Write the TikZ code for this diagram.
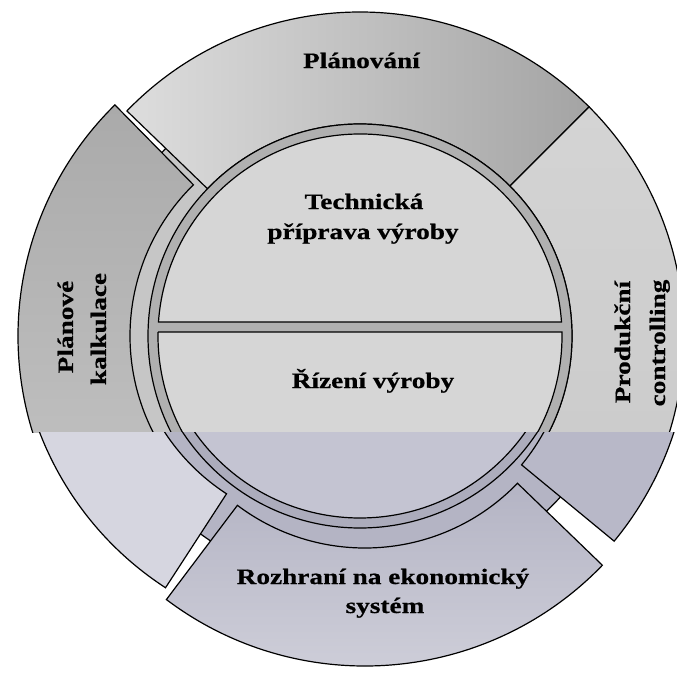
\documentclass[tikz,border=0pt]{standalone}
\usepackage{fontspec}
\setmainfont{Liberation Serif}[FakeStretch=1.24, BoldFeatures={FakeBold=0.6}]

% grey tones of the upper half
\definecolor{bgU}{HTML}{C6C6C6}
\definecolor{planA}{HTML}{DDDDDD}
\definecolor{planB}{HTML}{D2D2D2}
\definecolor{planC}{HTML}{A4A4A4}
\definecolor{kalkA}{HTML}{AAAAAA}
\definecolor{kalkB}{HTML}{C8C8C8}
\definecolor{prodA}{HTML}{D4D4D4}
\definecolor{prodB}{HTML}{C9C9C9}
\definecolor{bandU}{HTML}{B0B0B0}
\definecolor{halfU}{HTML}{D6D6D6}
% bluish tones of the lower half
\definecolor{bgL}{HTML}{B4B4C4}
\definecolor{kalkL}{HTML}{D6D6E0}
\definecolor{rozA}{HTML}{B4B4C4}
\definecolor{rozB}{HTML}{D2D2DC}
\definecolor{prodL}{HTML}{B8B8C8}
\definecolor{bandL}{HTML}{ACACBC}
\definecolor{halfL}{HTML}{C4C4D2}

% annular sector: centre offset (#1,#2), angles #3..#4, outer radius #5, style #6
\newcommand\ringseg[6]{%
  \path[#6] ([shift={(#1,#2)}]#3:212) arc[start angle=#3, end angle=#4, radius=212]
    -- ([shift={(#1,#2)}]#4:#5) arc[start angle=#4, end angle=#3, radius=#5] -- cycle;}

% the whole wheel: backing disc, four outer segments, split inner circle
\newcommand\drawwheel{%
  \path[bgdisk] (0,0) circle[radius=270];
  \ringseg{0}{0}{45}{136}{324}{plan}
  \ringseg{-18}{0}{134.5}{237}{324}{kalk}
  \ringseg{5}{-20}{233}{316}{330}{roz}
  \ringseg{\prodx}{\prody}{\proda}{45}{\prodr}{prod}
  \path[band] (0,0) circle[radius=212];
  \path[half] (-201.5,14) -- (201.5,14)
    arc[start angle=3.97, end angle=176.03, radius=202] -- cycle;
  \path[half] (-201.96,4) -- (201.96,4)
    arc[start angle=1.135, end angle=-181.135, radius=202] -- cycle;
}

\begin{document}
\begin{tikzpicture}[x=1pt,y=1pt,
  outline/.style={draw=black, line width=1.2pt},
  lbl/.style={font=\fontsize{22}{30}\selectfont\bfseries, inner sep=0pt, anchor=base},
]
\clip (-360,-337) rectangle (317,336);
\fill[white] (-360,-337) rectangle (317,336);

% upper half in grey
\begin{scope}[
  bgdisk/.style={outline, fill=bgU},
  plan/.style={outline, left color=planA, middle color=planB, right color=planC},
  kalk/.style={outline, top color=kalkA, bottom color=kalkB},
  roz/.style={outline, fill=rozA},
  prod/.style={outline, top color=prodA, bottom color=prodB},
  band/.style={outline, fill=bandU},
  half/.style={outline, fill=halfU}]
  \clip (-360,-96) rectangle (317,336);
  \def\prodx{0}\def\prody{0}\def\proda{-42}\def\prodr{324}
  \drawwheel
\end{scope}

% lower half in bluish grey, set slightly higher
\begin{scope}[
  bgdisk/.style={outline, fill=bgL},
  plan/.style={outline, fill=halfL},
  kalk/.style={outline, fill=kalkL},
  roz/.style={outline, top color=rozA, bottom color=rozB},
  prod/.style={outline, fill=prodL},
  band/.style={outline, fill=bandL},
  half/.style={outline, fill=halfL}]
  \clip (-360,-337) rectangle (317,-96);
  \def\prodx{-2}\def\prody{-14}\def\proda{-39.5}\def\prodr{332}
  \begin{scope}[yshift=20pt]
    \drawwheel
  \end{scope}
\end{scope}

% labels
\node[lbl] (plan) at (1.5,268) {Plánování};
\node[lbl] (tech1) at (4,127) {Technická};
\node[lbl] (tech2) at (3,97) {příprava výroby};
\node[lbl] (rizeni) at (13,-52) {Řízení výroby};
\node[lbl] (roz1) at (23,-248) {Rozhraní na ekonomický};
\node[lbl] (roz2) at (25,-277) {systém};
\node[lbl, rotate=90] (kalk1) at (-287,9) {Plánové};
\node[lbl, rotate=90] (kalk2) at (-254,7) {kalkulace};
\node[lbl, rotate=90] (prod1) at (270,-6) {Produkční};
\node[lbl, rotate=90] (prod2) at (305,-7) {controlling};
\end{tikzpicture}
\end{document}
